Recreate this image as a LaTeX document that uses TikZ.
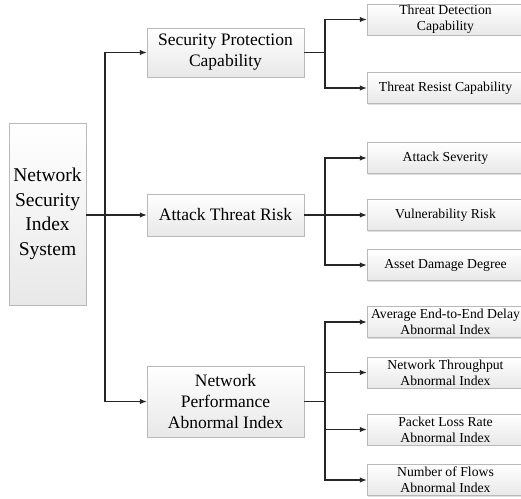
\documentclass[tikz,border=0pt]{standalone}
\usepackage{fontspec}
\setmainfont{Liberation Serif}
\usetikzlibrary{positioning}
\usetikzlibrary{shadows}
\usetikzlibrary{arrows.meta}

\tikzset{
  box/.style={draw=gray!55, top color=white, bottom color=gray!18, align=center, inner sep=0pt,
    drop shadow={opacity=0.25, shadow xshift=1pt, shadow yshift=-1pt}},
  rootbox/.style={box, minimum width=77pt, minimum height=182pt, font=\fontsize{19.5}{24.5}\selectfont},
  mainbox/.style={box, minimum width=157pt, font=\fontsize{17.5}{21}\selectfont},
  subbox/.style={box, minimum width=157pt, minimum height=31pt, font=\fontsize{13.7}{16}\selectfont},
  link/.style={line width=1.2pt, black!85},
  tip/.style={-{Latex[length=7pt,width=5.5pt]}},
}

\begin{document}
\begin{tikzpicture}[x=1pt,y=-1pt]
     \useasboundingbox (0,0) rectangle (521,498);
     \node[rootbox] (nsis) at (47.5,214) {Network\\Security\\Index\\System};

     \node[mainbox, minimum height=49pt] (spc) at (225.5,52.5) {Security Protection\\Capability};
     \node[mainbox, minimum height=42pt] (atr) at (225.5,215) {Attack Threat Risk};
     \node[mainbox, minimum height=71pt] (npai) at (225.5,401.5) {Network\\Performance\\Abnormal Index};

     \node[subbox] (tdc) at (445.5,19.5) {Threat Detection\\Capability};
     \node[subbox] (trc) at (445.5,88) {Threat Resist Capability};
     \node[subbox] (asev) at (445.5,158) {Attack Severity};
     \node[subbox] (vrisk) at (445.5,215) {Vulnerability Risk};
     \node[subbox] (add) at (445.5,265) {Asset Damage Degree};
     \node[subbox] (delay) at (445.5,322) {Average End-to-End Delay\\Abnormal Index};
     \node[subbox] (thru) at (445.5,372.5) {Network Throughput\\Abnormal Index};
     \node[subbox] (loss) at (445.5,429.5) {Packet Loss Rate\\Abnormal Index};
     \node[subbox] (flows) at (445.5,480) {Number of Flows\\Abnormal Index};

     \coordinate (rootfork) at (105,215);
     \draw[link,tip] (nsis.east |- atr.west) -- (atr.west);
     \draw[link,tip] (rootfork) |- (spc.west);
     \draw[link,tip] (rootfork) |- (npai.west);

     \coordinate (spcfork) at (325,52.5);
     \draw[link] (spc.east) -- (spcfork);
     \draw[link,tip] (spcfork) |- (tdc.west);
     \draw[link,tip] (spcfork) |- (trc.west);

     \coordinate (atrfork) at (325,215);
     \draw[link,tip] (atr.east) -- (vrisk.west);
     \draw[link,tip] (atrfork) |- (asev.west);
     \draw[link,tip] (atrfork) |- (add.west);

     \coordinate (npaifork) at (325,401.5);
     \draw[link] (npai.east) -- (npaifork);
     \foreach \leaf in {delay,thru,loss,flows}
       \draw[link,tip] (npaifork) |- (\leaf.west);
\end{tikzpicture}
\end{document}
